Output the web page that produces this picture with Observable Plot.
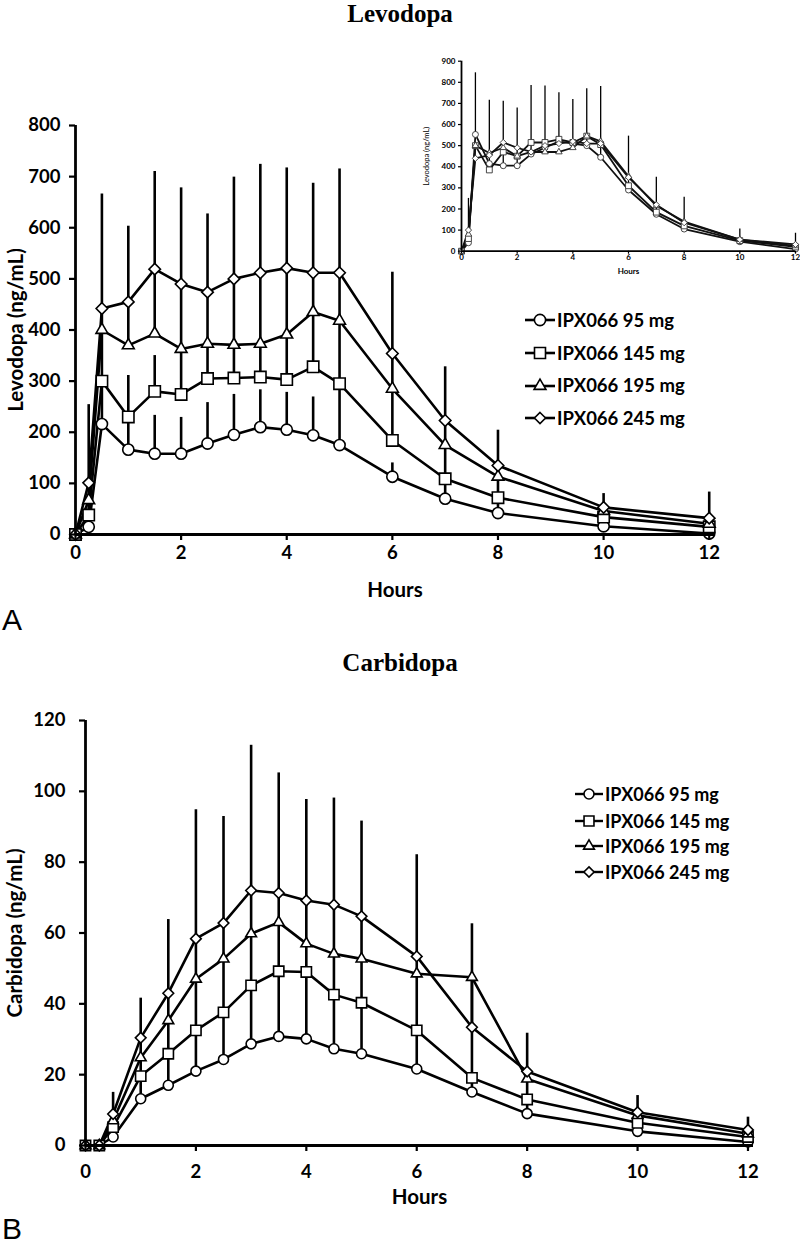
<!DOCTYPE html>
<html><head><meta charset="utf-8">
<script src="https://cdn.jsdelivr.net/npm/d3@7"></script>
<script src="https://cdn.jsdelivr.net/npm/@observablehq/plot@0.6"></script>
<style>
body{margin:0;background:#fff;}
#root{position:relative;width:800px;height:1245px;overflow:hidden;background:#fff;}
.title{font-family:"Liberation Serif","Times New Roman",serif;font-weight:bold;font-size:25px;width:800px;text-align:center;left:0;line-height:1;}
.panel{font-family:"Liberation Sans",Arial,sans-serif;font-size:30px;line-height:1;}
.lg{font-family:Lato,sans-serif;font-weight:bold;display:flex;align-items:center;white-space:nowrap;line-height:1;}
svg{overflow:visible;}
</style></head><body><div id="root"></div>
<script>
// ---------- data ----------
const hours = [0, 0.25, 0.5, 1, 1.5, 2, 2.5, 3, 3.5, 4, 4.5, 5, 6, 7, 8, 10, 12];
const doses = ["IPX066 95 mg", "IPX066 145 mg", "IPX066 195 mg", "IPX066 245 mg"];
const xTicks = [0, 2, 4, 6, 8, 10, 12];

// Levodopa (main panel A), mean and upper error-bar end (ng/mL)
const levo95  = [0, 15, 216, 166, 158, 158, 178, 195, 210, 205, 194, 175, 113, 70, 42, 16, 2];
const levo145 = [0, 38, 300, 230, 280, 274, 305, 306, 308, 303, 328, 295, 184, 109, 72, 34, 15];
const levo195 = [0, 67, 400, 370, 393, 363, 373, 371, 373, 391, 435, 418, 285, 175, 113, 46, 21];
const levo245 = [0, 101, 442, 455, 519, 490, 474, 500, 512, 521, 512, 512, 354, 223, 135, 53, 32];
const levo95Top  = [0, 38, 300, 230, 233, 229, 258, 274, 283, 278, 269, 295, 140, 109, 72, 34, 15];
const levo145Top = [0, 67, 400, 311, 350, 363, 373, 371, 373, 391, 435, 418, 285, 175, 113, 46, 21];
const levo195Top = [0, 101, 442, 455, 519, 490, 474, 500, 512, 521, 512, 512, 354, 223, 135, 53, 32];
const levo245Top = [0, 254, 666, 603, 710, 678, 627, 699, 724, 717, 687, 715, 513, 328, 204, 80, 83];
const levoTicks = [0, 100, 200, 300, 400, 500, 600, 700, 800];

// Levodopa inset
const inset95  = [0, 40, 553, 415, 405, 405, 460, 490, 520, 510, 500, 445, 290, 175, 105, 45, 10];
const inset145 = [0, 60, 500, 385, 470, 450, 515, 515, 530, 515, 545, 505, 310, 185, 120, 50, 20];
const inset195 = [0, 80, 500, 465, 490, 450, 470, 470, 470, 490, 545, 520, 355, 215, 140, 55, 25];
const inset245 = [0, 100, 440, 455, 515, 490, 470, 500, 510, 520, 510, 510, 350, 220, 135, 55, 32];
const insetTop = [0, 250, 845, 715, 710, 678, 785, 783, 750, 718, 770, 780, 545, 350, 255, 105, 85];
const insetTicks = [0, 100, 200, 300, 400, 500, 600, 700, 800, 900];

// Carbidopa (panel B)
const carbi95  = [0, 0, 2.4, 13.2, 17, 21, 24.3, 28.7, 30.8, 30.1, 27.3, 25.9, 21.6, 15.1, 9, 4, 1];
const carbi145 = [0, 0, 5.2, 19.6, 25.9, 32.5, 37.6, 45.2, 49.2, 49, 42.6, 40.3, 32.5, 19.1, 13, 6.4, 2.4];
const carbi195 = [0, 0, 7, 24.8, 35.3, 47, 52.7, 59.8, 63, 57, 54.1, 52.7, 48.5, 47.5, 18.8, 8.5, 3.3];
const carbi245 = [0, 0, 8.9, 30.4, 43, 58.4, 62.8, 72, 71.3, 69.2, 68, 64.7, 53.4, 33.4, 20.9, 9.4, 4.4];
const carbi95Top  = [0, 0, 5.2, 19.6, 25.9, 32.5, 37.6, 45.2, 49.2, 49, 42.6, 40.3, 32.5, 19.1, 13, 6.4, 2.4];
const carbi145Top = [0, 0, 7, 24.8, 35.3, 47, 52.7, 59.8, 63, 57, 54.1, 52.7, 48.5, 47.5, 18.8, 8.5, 3.3];
const carbi195Top = [0, 0, 9, 30.4, 43, 58.4, 62.8, 72, 71.3, 69.2, 68, 64.7, 53.4, 62.6, 20.9, 9.4, 4.4];
const carbi245Top = [0, 0, 15, 41.6, 63.8, 94.8, 92.9, 113, 105.2, 97.7, 98.1, 91.6, 82.1, 47.5, 31.7, 14.1, 8];
const carbiTicks = [0, 20, 40, 60, 80, 100, 120];

// ---------- helpers ----------
const symbols = ["circle", "square", "triangle", "diamond2"];
function rows(means, tops) {
  const out = [];
  doses.forEach((d, i) => hours.forEach((t, j) => out.push({dose: d, i, t, v: means[i][j], top: tops ? tops[i][j] : null})));
  return out;
}

function chart(o) {
  const data = rows(o.means, o.tops);
  const bars = o.barRows || data.filter(d => d.top != null && d.top > d.v);
  const marks = [
    Plot.ruleX(bars, {x: "t", y1: "v", y2: "top", stroke: "#000", strokeWidth: o.barW}),
    Plot.line(data, {x: "t", y: "v", z: "dose", stroke: o.lineColor || "#000", strokeWidth: o.lineW}),
    ...doses.map((d, i) => Plot.dot(data.filter(r => r.i === i), {
      x: "t", y: "v", symbol: symbols[i], r: o.r[i], fill: "#fff", stroke: o.dotStroke || "#000", strokeWidth: o.dotW
    })),
    Plot.axisX({ticks: xTicks, tickSize: o.tickSize, tickPadding: o.xPad, strokeWidth: o.tickW,
      label: null, fontSize: o.fs, fontWeight: "bold"}),
    Plot.axisX({ticks: [], tickSize: 0, label: "Hours", labelAnchor: "center", labelArrow: "none",
      labelOffset: o.xLabelOffset, fontSize: o.lfs, fontWeight: "bold"}),
    Plot.axisY({ticks: o.yTicks, tickSize: o.tickSize, tickPadding: o.yPad, strokeWidth: o.tickW,
      tickFormat: d => String(d), label: null, fontSize: o.fs, fontWeight: "bold"}),
    Plot.axisY({ticks: [], tickSize: 0, label: o.yLabel, labelAnchor: "center", labelArrow: "none",
      labelOffset: o.yLabelOffset, fontSize: o.ylfs || o.lfs, fontWeight: o.yLabelWeight || "bold"}),
    Plot.ruleY([0], {stroke: "#000", strokeWidth: o.axisW}),
    Plot.ruleX([0], {stroke: "#000", strokeWidth: o.axisW})
  ];
  return Plot.plot({
    width: o.width, height: o.height,
    marginLeft: o.mL, marginRight: o.mR, marginTop: o.mT, marginBottom: o.mB,
    x: {domain: o.xDomain},
    y: {domain: o.yDomain},
    style: {fontFamily: "Lato, sans-serif", fontSize: o.fs + "px", fontWeight: "bold", color: "#000", background: "transparent", overflow: "visible"},
    marks
  });
}

const root = document.getElementById("root");
function place(el, left, top) {
  el.style.position = "absolute";
  el.style.left = left + "px";
  el.style.top = top + "px";
  root.appendChild(el);
  return el;
}

// Panel A
place(chart({
  means: [levo95, levo145, levo195, levo245],
  tops: [levo95Top, levo145Top, levo195Top, levo245Top],
  width: 800, height: 620, mL: 75, mR: 86, mT: 125, mB: 86,
  xDomain: [0, 12.1], yDomain: [0, 800], yTicks: levoTicks,
  yLabel: "Levodopa (ng/mL)", fs: 18.5, lfs: 20.5,
  barW: 2.6, lineW: 2.6, dotW: 1.6, r: [5.6, 6.4, 4.4, 5.2],
  tickSize: 6, tickW: 2.2, axisW: 2.8, xPad: 5, yPad: 9, xLabelOffset: 62, yLabelOffset: 67
}), 0, 0);

// Inset
place(chart({
  means: [inset95, inset145, inset195, inset245],
  barRows: hours.map((t, j) => ({t, v: inset95[j], top: insetTop[j]})).filter(d => d.top > d.v),
  width: 380, height: 240, mL: 41, mR: 5, mT: 20.7, mB: 29.3,
  xDomain: [0, 12], yDomain: [0, 900], yTicks: insetTicks,
  yLabel: "Levodopa (ng/mL)", fs: 8, lfs: 8, ylfs: 7.5, yLabelWeight: "normal",
  barW: 1.3, lineW: 1.8, dotW: 0.9, r: [3, 3.3, 2.4, 2.8], lineColor: "#111", dotStroke: "#333",
  tickSize: 3, tickW: 1.2, axisW: 1.8, xPad: 0, yPad: 3, xLabelOffset: 23, yLabelOffset: 38
}), 420, 40);

// Panel B
place(chart({
  means: [carbi95, carbi145, carbi195, carbi245],
  tops: [carbi95Top, carbi145Top, carbi195Top, carbi245Top],
  width: 800, height: 480, mL: 85, mR: 47, mT: 20, mB: 35,
  xDomain: [0, 12.1], yDomain: [0, 120], yTicks: carbiTicks,
  yLabel: "Carbidopa (ng/mL)", fs: 18.5, lfs: 20.5,
  barW: 2.6, lineW: 2.6, dotW: 1.6, r: [5, 5.8, 4, 4.8],
  tickSize: 6, tickW: 2.2, axisW: 2.8, xPad: 13, yPad: 14, xLabelOffset: 58, yLabelOffset: 78
}), 0, 700);

// Titles and panel letters
function div(cls, text, left, top) {
  const d = document.createElement("div");
  d.className = cls; d.textContent = text;
  return place(d, left, top);
}
div("title", "Levodopa", 0, 1);
div("title", "Carbidopa", 0, 650);
div("panel", "A", 2, 605);
div("panel", "B", 2, 1214);

// Legends
function legend(left, tops, lineLen, fs, r, lw) {
  const types = [d3.symbolCircle, d3.symbolSquare, d3.symbolTriangle, d3.symbolDiamond2];
  doses.forEach((d, i) => {
    const row = document.createElement("div");
    row.className = "lg";
    row.style.fontSize = fs + "px";
    const w = lineLen, h = 18;
    const sym = d3.symbol(types[i], Math.PI * r[i] * r[i])();
    row.innerHTML = `<svg width="${w}" height="${h}" style="margin-right:2px"><line x1="0" x2="${w}" y1="${h/2}" y2="${h/2}" stroke="#000" stroke-width="${lw}"/><path d="${sym}" transform="translate(${w/2},${h/2})" fill="#fff" stroke="#000" stroke-width="1.6"/></svg><span>${d}</span>`;
    place(row, left, tops[i] - h / 2);
  });
}
legend(525, [320, 352.7, 385.3, 418], 30, 18.5, [5.6, 6.2, 4.4, 5], 2.6);
legend(575, [794, 820.5, 846, 871.5], 28, 18, [5, 5.6, 4, 4.6], 2.4);
</script></body></html>
